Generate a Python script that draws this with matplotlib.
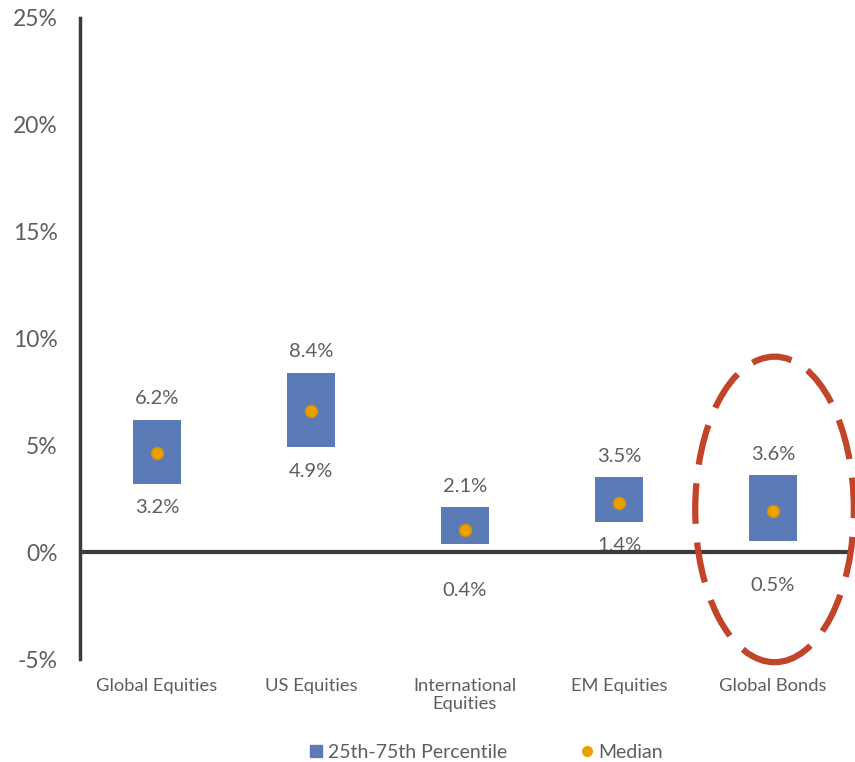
import matplotlib
matplotlib.use('Agg')
import matplotlib.pyplot as plt
from matplotlib.patches import Ellipse
from matplotlib.lines import Line2D
import numpy as np

categories = ['Global Equities', 'US Equities', 'International\nEquities', 'EM Equities', 'Global Bonds']
p25 = [3.2, 4.9, 0.4, 1.4, 0.5]
p75 = [6.2, 8.4, 2.1, 3.5, 3.6]
median = [4.65, 6.6, 1.05, 2.3, 1.95]
yticks = [-5, 0, 5, 10, 15, 20, 25]

blue = '#5A7BB6'
orange = '#E8A200'
grey = '#5E5E5E'
axis_col = '#3D3B38'

# lower labels near the zero line sit under it
low_pad = [17, 17, 34, 17, 32]

plt.rcParams['font.family'] = ['Lato', 'DejaVu Sans']

fig = plt.figure(figsize=(8.55, 7.62), dpi=100)
ax = fig.add_axes([80/855, 1 - 659/762, 770/855, 641/762])

x = np.arange(len(categories))
lo = np.array(p25)
hi = np.array(p75)
ax.bar(x, hi - lo, bottom=lo, width=0.31, color=blue, zorder=2)
ax.scatter(x, median, s=75, color=orange, edgecolors='#D98E00', linewidths=1, zorder=3)

# value labels above / below each box
for i in range(len(categories)):
    ax.annotate(f'{p75[i]:.1f}%', (x[i], p75[i]), xytext=(0, 15), textcoords='offset points',
                ha='center', va='center', fontsize=14.5, color=grey)
    ax.annotate(f'{p25[i]:.1f}%', (x[i], p25[i]), xytext=(0, -low_pad[i]), textcoords='offset points',
                ha='center', va='center', fontsize=14.5, color=grey, zorder=1)

ax.axhline(0, color=axis_col, lw=3, zorder=4)

ax.set_xlim(-0.5, 4.5)
ax.set_ylim(-5, 25)
ax.set_yticks(yticks)
ax.set_yticklabels([f'{v}%' for v in yticks], fontsize=16.5, color=grey)
ax.set_xticks(x)
ax.set_xticklabels(categories, fontsize=13.2, color=grey, linespacing=1.15, va='top')
ax.tick_params(axis='both', length=0)
ax.tick_params(axis='y', pad=16)
ax.tick_params(axis='x', pad=14)

for s in ['top', 'right', 'bottom']:
    ax.spines[s].set_visible(False)
ax.spines['left'].set_color(axis_col)
ax.spines['left'].set_linewidth(2.5)

# highlight ring around Global Bonds
ring = Ellipse((4.01, 2.0), 1.03, 14.3, fill=False, edgecolor='#C2452A', lw=4.5,
               linestyle=(0, (6.5, 3)), clip_on=False, zorder=5)
ax.add_patch(ring)

handles = [Line2D([], [], marker='s', color=blue, ls='none', markersize=8),
           Line2D([], [], marker='o', color=orange, ls='none', markersize=7)]
fig.legend(handles, ['25th-75th Percentile', 'Median'], loc='center', bbox_to_anchor=(485/855, 1 - 752/762),
           ncol=2, frameon=False, fontsize=14, labelcolor=grey, handletextpad=0.1,
           columnspacing=3.6, handlelength=1)

fig.savefig('out.png', dpi=100)
